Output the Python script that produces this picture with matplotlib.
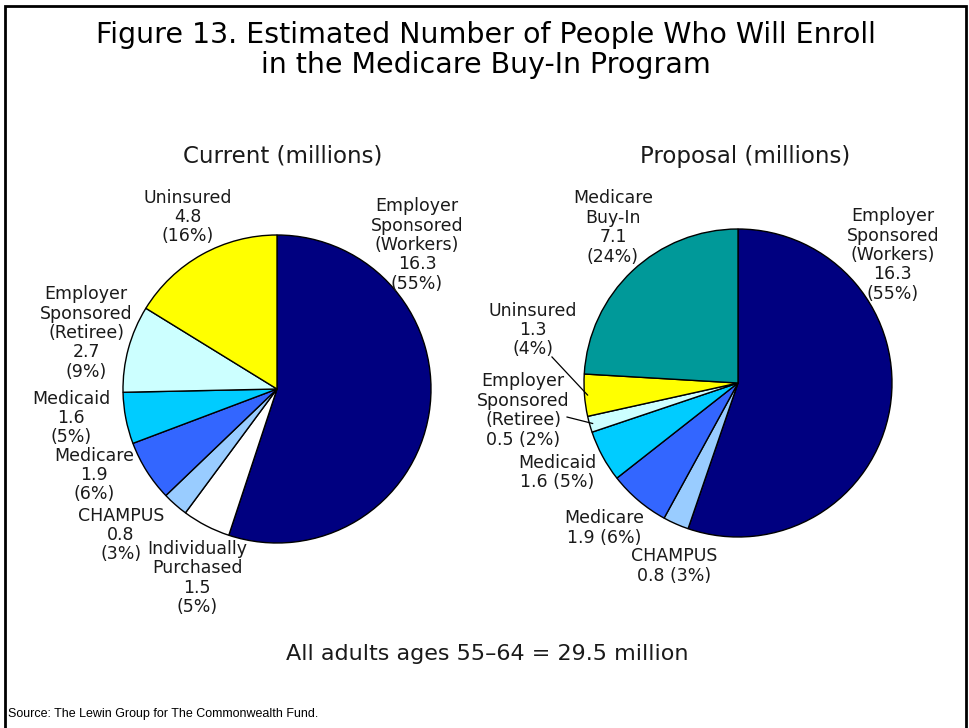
import matplotlib.pyplot as plt
import matplotlib.patches as mpatches
import numpy as np

plt.rcParams["font.family"] = ["DejaVu Sans"]

W, H = 969, 728

# Coverage in millions, listed clockwise from 12 o'clock
current_names = [
    "Employer\nSponsored\n(Workers)",
    "Individually\nPurchased",
    "CHAMPUS",
    "Medicare",
    "Medicaid",
    "Employer\nSponsored\n(Retiree)",
    "Uninsured",
]
current_values = [16.3, 1.5, 0.8, 1.9, 1.6, 2.7, 4.8]

proposal_names = [
    "Employer\nSponsored\n(Workers)",
    "CHAMPUS",
    "Medicare",
    "Medicaid",
    "Employer\nSponsored\n(Retiree)",
    "Uninsured",
    "Medicare\nBuy-In",
]
proposal_values = [16.3, 0.8, 1.9, 1.6, 0.5, 1.3, 7.1]

total_adults = 29.5

####################################################
# Styling

colors = {
    "Employer\nSponsored\n(Workers)": "#000080",
    "Individually\nPurchased": "#FFFFFF",
    "CHAMPUS": "#99CCFF",
    "Medicare": "#3366FF",
    "Medicaid": "#00CCFF",
    "Employer\nSponsored\n(Retiree)": "#CCFFFF",
    "Uninsured": "#FFFF00",
    "Medicare\nBuy-In": "#009999",
}

# label centres in pie units (radius = 1)
current_pos = [(0.909, 0.935), (-0.519, -1.227), (-1.013, -0.948), (-1.188, -0.558),
               (-1.338, -0.188), (-1.24, 0.364), (-0.578, 1.117)]
current_sep = ["\n"] * 7

proposal_pos = [(1.006, 0.831), (-0.416, -1.188), (-0.87, -0.942), (-1.175, -0.581),
                (-1.396, -0.179), (-1.331, 0.344), (-0.812, 1.01)]
proposal_sep = ["\n", " ", " ", " ", " ", "\n", "\n"]
# leader lines: slice index -> start of the line near the text
proposal_leaders = {4: (-1.11, -0.221), 5: (-1.208, 0.169)}

R_PX = 154  # pie radius in pixels
LIM = 1.6
TXT = "#1a1a1a"


def pie_axes(fig, cx, cy):
    half = R_PX * LIM
    return fig.add_axes([(cx - half) / W, (H - cy - half) / H, 2 * half / W, 2 * half / H])


def draw_pie(ax, names, values, pos, seps, leaders=None):
    total = sum(values)
    ax.pie(
        values,
        colors=[colors[n] for n in names],
        startangle=90,
        counterclock=False,
        wedgeprops=dict(edgecolor="black", linewidth=1.0),
    )
    ax.set_xlim(-LIM, LIM)
    ax.set_ylim(-LIM, LIM)
    ax.axis("off")

    cum = np.cumsum(values) - np.array(values) / 2
    for i, (name, val) in enumerate(zip(names, values)):
        pct = int(round(100 * val / total))
        txt = "%s\n%.1f%s(%d%%)" % (name, val, seps[i], pct)
        ax.text(pos[i][0], pos[i][1], txt, ha="center", va="center", fontsize=12.5,
                color=TXT, linespacing=1.1, clip_on=False)

    if leaders:
        for i, start in leaders.items():
            ang = np.deg2rad(90 - 360 * cum[i] / total)
            end = (0.98 * np.cos(ang), 0.98 * np.sin(ang))
            ax.plot([start[0], end[0]], [start[1], end[1]], color="black", lw=0.9,
                    clip_on=False)


fig = plt.figure(figsize=(W / 100, H / 100), dpi=100)

ax1 = pie_axes(fig, 277, 389)
draw_pie(ax1, current_names, current_values, current_pos, current_sep)

ax2 = pie_axes(fig, 738, 383)
draw_pie(ax2, proposal_names, proposal_values, proposal_pos, proposal_sep, proposal_leaders)

fig.text(486 / W, 1 - 50 / H,
         "Figure 13. Estimated Number of People Who Will Enroll\nin the Medicare Buy-In Program",
         ha="center", va="center", fontsize=20.5, linespacing=1.1, color="black")
fig.text(283 / W, 1 - 156 / H, "Current (millions)", ha="center", va="center",
         fontsize=16.5, color=TXT)
fig.text(745 / W, 1 - 156 / H, "Proposal (millions)", ha="center", va="center",
         fontsize=16.5, color=TXT)
fig.text(487 / W, 1 - 654 / H, "All adults ages 55\u201364 = %.1f million" % total_adults,
         ha="center", va="center", fontsize=16, color=TXT)
fig.text(8 / W, 1 - 714 / H, "Source: The Lewin Group for The Commonwealth Fund.",
         ha="left", va="center", fontsize=9, family="Liberation Sans", color="black")

# frame around the whole figure
fig.patches.append(mpatches.Rectangle((5 / W, -0.05), 961 / W, 1.05 - 6 / H,
                                      transform=fig.transFigure, fill=False,
                                      edgecolor="black", linewidth=2))

fig.savefig("out.png", dpi=100)
